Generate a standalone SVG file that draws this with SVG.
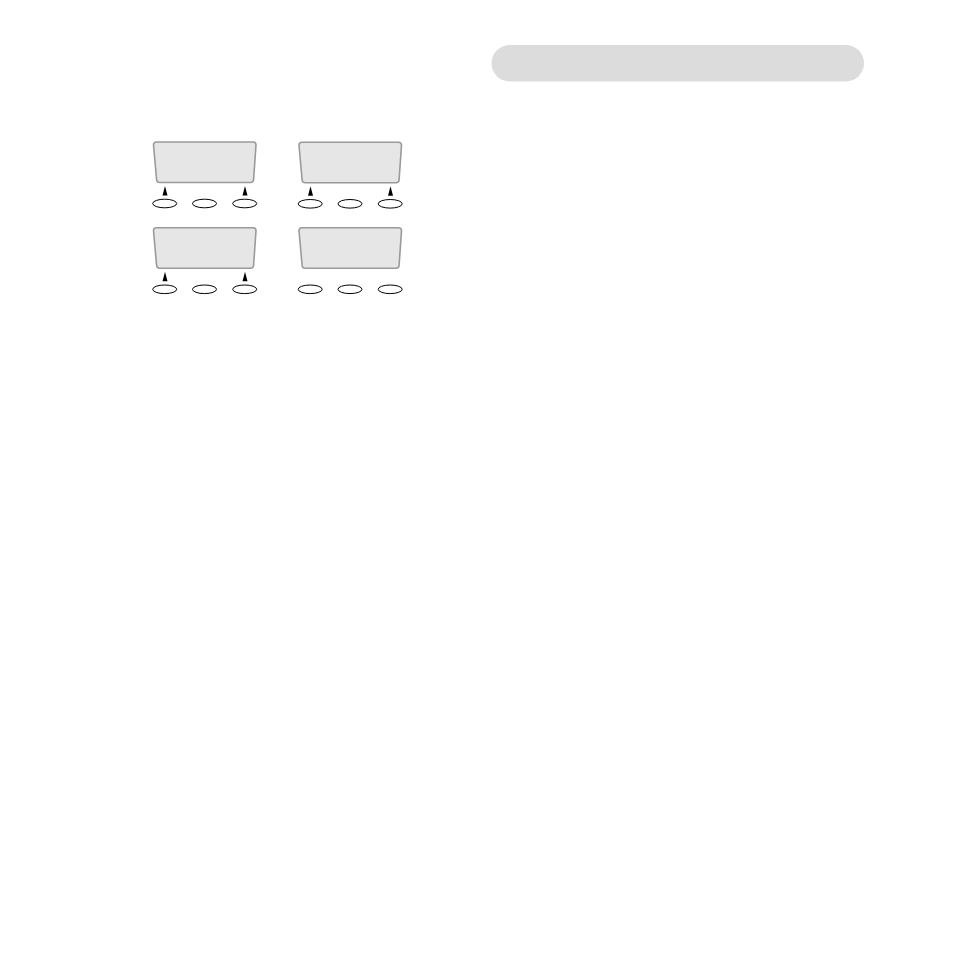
<svg xmlns="http://www.w3.org/2000/svg" width="954" height="954" viewBox="0 0 954 954">
<style>
.scr{fill:#e6e6e6;stroke:#9a9a9a;stroke-width:1.6;stroke-linejoin:round}
.btn{fill:#ffffff;stroke:#000000;stroke-width:1}
.arr{fill:#000000}
</style>
<defs>
<path id="screen" d="M153.5 145 Q153.5 142 156.5 142 L253 142 Q256 142 256 145 L253.6 179.5 Q253.4 182.5 250.5 182.5 L159.6 182.5 Q156.8 182.5 156.6 179.5 Z"/>
<g id="buttons">
<ellipse cx="164.7" cy="203.5" rx="12" ry="4.3"/>
<ellipse cx="204.5" cy="203.5" rx="12" ry="4.3"/>
<ellipse cx="244.7" cy="203.5" rx="12" ry="4.3"/>
</g>
<g id="arrows">
<polygon points="165,186 162.5,195.5 167.5,195.5"/>
<polygon points="245,186 242.5,195.5 247.5,195.5"/>
</g>
</defs>
<rect width="954" height="954" fill="#ffffff"/>
<rect id="title-bar" x="491.5" y="45" width="372.5" height="36.5" rx="18.25" fill="#dcdcdc"/>
<g id="panel1">
<use href="#screen" class="scr"/>
<use href="#buttons" class="btn"/>
<use href="#arrows" class="arr"/>
</g>
<g id="panel2" transform="translate(145.5,0.3)">
<use href="#screen" class="scr"/>
<use href="#buttons" class="btn"/>
<use href="#arrows" class="arr"/>
</g>
<g id="panel3" transform="translate(0,85.8)">
<use href="#screen" class="scr"/>
<use href="#buttons" class="btn"/>
<use href="#arrows" class="arr"/>
</g>
<g id="panel4" transform="translate(145.5,85.8)">
<use href="#screen" class="scr"/>
<use href="#buttons" class="btn"/>
</g>
<g id="connectors"/>
</svg>
